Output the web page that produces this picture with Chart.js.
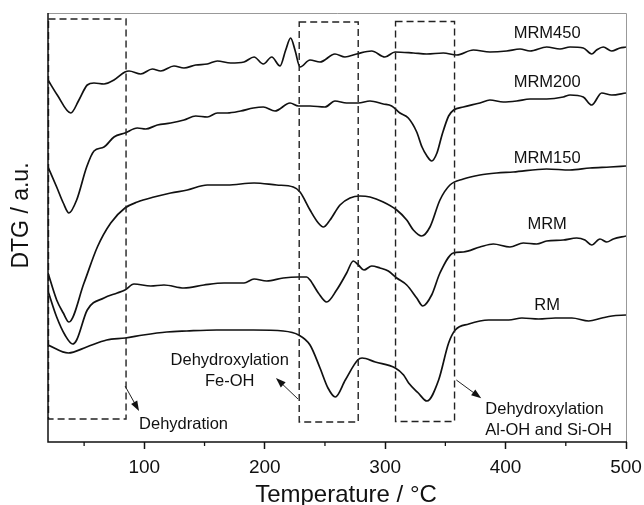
<!DOCTYPE html>
<html>
<head>
<meta charset="utf-8">
<script src="https://cdn.jsdelivr.net/npm/chart.js@4.4.1/dist/chart.umd.min.js"></script>
<style>
  html, body { margin: 0; padding: 0; background: #fff; }
  #wrap { width: 644px; height: 505px; position: relative; }
</style>
</head>
<body>
<div id="wrap"><canvas id="dtg"></canvas></div>
<script>
// temperatures (°C) and DTG values (a.u., offset curves)
const mrm450Temp = [20, 27.7, 38.9, 45.7, 52.6, 58.2, 66.5, 74.8, 83.9, 87.3, 97.0, 106.6, 113.6, 124.6, 132.9, 142.7, 152.3, 160.6, 171.7, 182.8, 191.1, 198.8, 205.8, 212.7, 217.4, 221.5, 225.1, 229.3, 237.6, 245.9, 258.3, 266.6, 276.3, 288.8, 299.8, 308.2, 323.4, 334.5, 348.3, 359.4, 373.2, 387.0, 400.9, 412.0, 420.3, 434.1, 445.2, 453.5, 464.5, 471.5, 475.6, 481.1, 488.1, 495.0, 500];
const mrm450Dtg = [362, 347, 329, 342, 357, 359, 358, 362, 370, 371, 368, 373, 371, 376, 374, 377, 378, 381, 379, 380, 385, 378, 385, 376, 392, 404, 392, 375, 382, 380, 388, 385, 388, 391, 385, 390, 389, 388, 389, 387, 392, 390, 391, 393, 391, 395, 393, 395, 394, 388, 392, 395, 391, 394, 395];

const mrm200Temp = [20, 27.2, 32.7, 37.4, 43.8, 52.1, 58.2, 66.5, 74.8, 83.9, 94.2, 101.1, 110.8, 121.9, 132.9, 142.7, 152.3, 160.6, 168.9, 180.0, 190.5, 198.8, 208.5, 221.0, 227.9, 237.6, 250.0, 258.3, 268.0, 277.7, 287.4, 298.4, 305.4, 312.3, 319.2, 326.2, 330.6, 334.7, 338.6, 343.0, 347.2, 352.7, 356.9, 364.9, 378.7, 387.0, 398.1, 409.2, 420.3, 434.1, 447.9, 453.5, 464.5, 471.5, 479.8, 488.1, 500];
const mrm200Dtg = [275, 255, 239, 229, 242, 275, 291, 295, 305, 309, 314, 313, 317, 319, 322, 326, 325, 329, 329, 331, 334, 335, 331, 339, 336, 336, 335, 341, 339, 339, 341, 338, 336, 329, 324, 310, 295, 286, 281, 289, 307, 326, 332, 335, 339, 342, 340, 341, 343, 343, 345, 347, 345, 337, 349, 347, 349];

const mrm150Temp = [20, 27.2, 32.7, 37.4, 49.9, 61.0, 72.1, 83.9, 94.2, 108.0, 121.9, 135.7, 152.3, 168.9, 191.1, 209.9, 223.7, 229.3, 237.6, 244.5, 248.6, 254.2, 262.5, 270.8, 279.1, 287.4, 298.4, 309.6, 317.9, 323.4, 330.3, 337.2, 345.5, 353.8, 364.9, 378.7, 392.6, 406.4, 434.1, 453.5, 470.1, 486.7, 500];
const mrm150Dtg = [169, 142, 129, 120, 159, 195, 219, 234, 240, 245, 249, 252, 257, 257, 259, 257, 255, 250, 232, 219, 215, 222, 237, 244, 246, 245, 240, 232, 222, 212, 206, 215, 242, 257, 263, 267, 269, 270, 273, 272, 274, 275, 276];

const mrmTemp = [20, 27.2, 34.1, 40.5, 43.8, 52.6, 66.5, 77.5, 83.9, 91.4, 105.3, 116.3, 132.9, 149.5, 166.2, 182.8, 191.1, 201.6, 215.4, 227.9, 234.8, 237.6, 244.5, 251.4, 259.7, 268.0, 273.5, 277.7, 282.4, 288.8, 295.7, 302.6, 309.6, 317.9, 326.2, 331.2, 338.6, 345.5, 356.6, 364.9, 378.7, 389.8, 403.6, 414.7, 425.8, 434.1, 447.9, 459.0, 465.9, 471.5, 478.4, 484.0, 489.5, 500];
const mrmDtg = [151, 125, 107, 98, 102, 132, 144, 149, 152, 158, 156, 157, 154, 157, 159, 159, 163, 161, 164, 165, 165, 162, 149, 140, 152, 169, 181, 177, 172, 176, 174, 171, 164, 157, 144, 136, 147, 169, 189, 190, 195, 198, 195, 199, 198, 201, 202, 204, 202, 197, 203, 200, 203, 206];

const rmTemp = [20, 36.9, 52.1, 68.7, 84.2, 99.1, 118.6, 135.2, 160.1, 190.5, 215.4, 228.2, 237.6, 245.9, 252.5, 258.6, 266.9, 277.2, 280.8, 291.8, 308.4, 315.3, 319.5, 327.5, 334.7, 344.4, 352.7, 358.2, 369.4, 386.0, 402.6, 413.6, 427.5, 441.3, 455.1, 469.0, 480.0, 488.3, 500];
const rmDtg = [97, 89, 95, 102, 104, 107, 110, 111, 112, 112, 111, 107, 97, 74, 54, 45, 62, 82, 84, 80, 74, 67, 59, 49, 41, 62, 99, 112, 118, 122, 122, 124, 123, 124, 124, 121, 124, 126, 127];

const seriesNames = ['MRM450', 'MRM200', 'MRM150', 'MRM', 'RM'];
const majorTicks = [100, 200, 300, 400, 500];
const minorTicks = [50, 150, 250, 350, 450];

// temperature windows of the three mass-loss steps
const dehydrationRange = [20, 84.4];
const feOhRange = [228.2, 277.2];
const alOhRange = [308.2, 357.2];

function toPoints(temps, vals) {
  return temps.map((t, i) => ({ x: t, y: vals[i] }));
}

const curves = [
  toPoints(mrm450Temp, mrm450Dtg),
  toPoints(mrm200Temp, mrm200Dtg),
  toPoints(mrm150Temp, mrm150Dtg),
  toPoints(mrmTemp, mrmDtg),
  toPoints(rmTemp, rmDtg)
];

const FONT = "'Liberation Sans', Arial, sans-serif";

const decorations = {
  id: 'decorations',
  afterDatasetsDraw(chart) {
    const { ctx, chartArea: a, scales: { x, y } } = chart;
    const px = v => x.getPixelForValue(v);
    const py = v => y.getPixelForValue(v);
    ctx.save();

    // dashed boxes
    ctx.strokeStyle = '#222';
    ctx.lineWidth = 1.4;
    ctx.setLineDash([7, 4]);
    [[dehydrationRange, 23, 423], [feOhRange, 20, 420], [alOhRange, 20.5, 420.5]].forEach(([r, y0, y1]) => {
      ctx.beginPath();
      ctx.rect(px(r[0]) + 0.5, py(y1), px(r[1]) - px(r[0]), py(y0) - py(y1));
      ctx.stroke();
    });
    ctx.setLineDash([]);

    // arrows
    const arrow = (t0, v0, t1, v1) => {
      const x0 = px(t0), y0 = py(v0), x1 = px(t1), y1 = py(v1);
      const ang = Math.atan2(y1 - y0, x1 - x0);
      ctx.beginPath();
      ctx.moveTo(x0, y0);
      ctx.lineTo(x1 - 6 * Math.cos(ang), y1 - 6 * Math.sin(ang));
      ctx.lineWidth = 1;
      ctx.stroke();
      ctx.beginPath();
      ctx.moveTo(x1, y1);
      ctx.lineTo(x1 - 10 * Math.cos(ang) + 3.5 * Math.sin(ang), y1 - 10 * Math.sin(ang) - 3.5 * Math.cos(ang));
      ctx.lineTo(x1 - 10 * Math.cos(ang) - 3.5 * Math.sin(ang), y1 - 10 * Math.sin(ang) + 3.5 * Math.cos(ang));
      ctx.closePath();
      ctx.fillStyle = '#111';
      ctx.fill();
    };
    arrow(84.0, 56, 95.6, 31);
    arrow(227.6, 43, 209.3, 64);
    arrow(359.1, 62, 379.8, 43.7);

    // texts
    ctx.fillStyle = '#111';
    ctx.font = '16.5px ' + FONT;
    ctx.textBaseline = 'middle';
    ctx.textAlign = 'center';
    const labelY = [409, 360, 284, 218, 137];
    seriesNames.forEach((n, i) => ctx.fillText(n, px(434.5), py(labelY[i])));
    ctx.fillText('Dehydroxylation', px(170.9), py(82));
    ctx.fillText('Fe-OH', px(170.9), py(61));
    ctx.textAlign = 'left';
    ctx.fillText('Dehydration', px(95.6), py(18));
    ctx.fillText('Dehydroxylation', px(383.2), py(33));
    ctx.fillText('Al-OH and Si-OH', px(383.2), py(11.5));

    // frame
    ctx.lineWidth = 1;
    ctx.strokeStyle = '#999';
    ctx.beginPath();
    ctx.moveTo(a.left, a.top + 0.5);
    ctx.lineTo(a.right + 0.5, a.top + 0.5);
    ctx.lineTo(a.right + 0.5, a.bottom);
    ctx.stroke();
    ctx.strokeStyle = '#111';
    ctx.lineWidth = 1.5;
    ctx.beginPath();
    ctx.moveTo(a.left, a.top);
    ctx.lineTo(a.left, a.bottom);
    ctx.lineTo(a.right + 1, a.bottom);
    ctx.stroke();

    // minor ticks
    ctx.lineWidth = 1.3;
    minorTicks.forEach(t => {
      ctx.beginPath();
      ctx.moveTo(px(t), a.bottom);
      ctx.lineTo(px(t), a.bottom + 4);
      ctx.stroke();
    });

    // axis titles
    ctx.font = '24px ' + FONT;
    ctx.textAlign = 'center';
    ctx.textBaseline = 'alphabetic';
    ctx.fillText('Temperature / \u00B0C', 346, 502);
    ctx.translate(22, 215.5);
    ctx.rotate(-Math.PI / 2);
    ctx.font = '23px ' + FONT;
    ctx.textBaseline = 'middle';
    ctx.fillText('DTG / a.u.', 0, 0);
    ctx.restore();
  }
};

new Chart(document.getElementById('dtg'), {
  type: 'line',
  data: {
    datasets: curves.map((pts, i) => ({
      label: seriesNames[i],
      data: pts,
      borderColor: '#111',
      borderWidth: 1.7,
      pointRadius: 0,
      cubicInterpolationMode: 'monotone',
      fill: false
    }))
  },
  options: {
    responsive: true,
    maintainAspectRatio: false,
    animation: false,
    layout: { padding: { left: 48, right: 18, top: 13, bottom: 0 } },
    plugins: { legend: { display: false }, tooltip: { enabled: false } },
    scales: {
      x: {
        type: 'linear',
        min: 20,
        max: 500,
        afterBuildTicks: scale => { scale.ticks = majorTicks.map(v => ({ value: v })); },
        afterFit: scale => {
          scale.height = 63;
          scale.paddingLeft = 0;
          scale.paddingRight = 0;
        },
        border: { display: false },
        grid: { drawOnChartArea: false, drawTicks: true, tickLength: 7, tickColor: '#111', tickWidth: 1.5 },
        ticks: { color: '#111', font: { family: FONT, size: 19 }, padding: 7, maxRotation: 0 }
      },
      y: {
        display: false,
        min: 0,
        max: 429
      }
    }
  },
  plugins: [decorations]
});
</script>
</body>
</html>
